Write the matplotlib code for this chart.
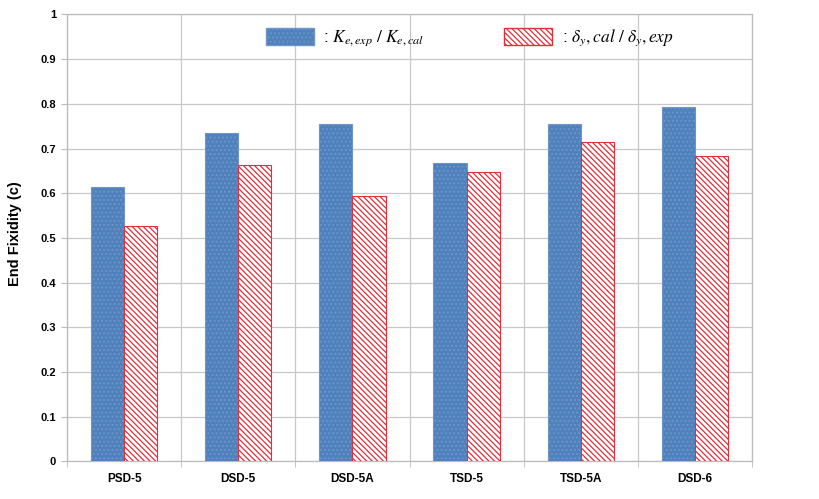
import matplotlib
matplotlib.use("Agg")
import matplotlib.pyplot as plt
import numpy as np
from matplotlib.patches import Patch

plt.rcParams['font.family'] = ['Liberation Sans', 'DejaVu Sans']
plt.rcParams['mathtext.fontset'] = 'stix'
plt.rcParams['hatch.linewidth'] = 0.9

categories = ["PSD-5", "DSD-5", "DSD-5A", "TSD-5", "TSD-5A", "DSD-6"]
stiffness_ratio = [0.614, 0.734, 0.756, 0.668, 0.756, 0.793]
deflection_ratio = [0.526, 0.663, 0.594, 0.648, 0.714, 0.683]
yticks = [0, 0.1, 0.2, 0.3, 0.4, 0.5, 0.6, 0.7, 0.8, 0.9, 1]
ytick_labels = ["0", "0.1", "0.2", "0.3", "0.4", "0.5", "0.6", "0.7", "0.8", "0.9", "1"]

blue = "#4F81BD"
red = "#E0303A"

fig = plt.figure(figsize=(8.2, 4.99), dpi=100)
ax = fig.add_axes([0.0817, 0.0752, 0.8354, 0.8958])

x = np.arange(len(categories))
w = 0.29
ax.bar(x - w / 2, stiffness_ratio, w, color=blue, edgecolor="#6F95C8",
       hatch="....", linewidth=0.8, zorder=3)
plt.rcParams['hatch.color'] = red
ax.bar(x + w / 2, deflection_ratio, w, facecolor="white", edgecolor=red,
       hatch="\\\\\\\\\\\\", linewidth=0.8, zorder=3)

ax.set_xlim(-0.5, len(categories) - 0.5)
ax.set_ylim(0, 1)
ax.set_yticks(yticks)
ax.set_yticklabels(ytick_labels, fontsize=8, fontweight="bold")
ax.set_xticks(x)
ax.set_xticklabels(categories, fontsize=8.5, fontweight="bold")
ax.tick_params(axis="x", length=0, pad=8)
ax.tick_params(axis="y", length=4, color="#BBBBBB", pad=4)

ax.set_xticks(np.arange(-0.5, len(categories)), minor=True)
ax.grid(True, axis="y", color="#C8C8C8", linewidth=0.9, zorder=0)
ax.grid(True, axis="x", which="minor", color="#C8C8C8", linewidth=0.9, zorder=0)
ax.tick_params(axis="x", which="minor", length=4, color="#BBBBBB")
for s in ax.spines.values():
    s.set_color("#BBBBBB")
    s.set_linewidth(0.9)

ax.set_ylabel("End Fixidity (c)", fontsize=10.5, fontweight="bold")
ax.yaxis.set_label_coords(-0.066, 0.51)

handles = [
    Patch(facecolor=blue, edgecolor="#6F95C8", hatch="...."),
    Patch(facecolor="white", edgecolor=red, hatch="\\\\\\\\\\\\"),
]
labels = [r": $K_{e,exp}\ /\ K_{e,cal}$", r": $\delta_y,cal\ /\ \delta_y,exp$"]
ax.legend(handles, labels, ncol=2, loc="center", bbox_to_anchor=(0.588, 0.947),
          frameon=False, fontsize=12.5, handlelength=2.75, handleheight=1.1,
          columnspacing=4.6, handletextpad=0.55, borderpad=0, borderaxespad=0)

fig.savefig("out.png", dpi=100)
